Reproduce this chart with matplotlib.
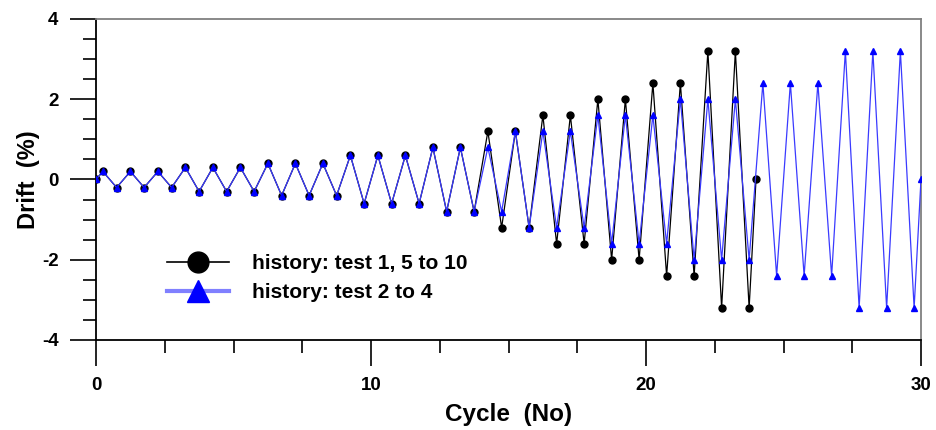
import numpy as np
import matplotlib
matplotlib.use("Agg")
from matplotlib import pyplot as plt
from matplotlib.lines import Line2D
from matplotlib.ticker import MultipleLocator

plt.rcParams['font.family'] = ['Liberation Sans', 'DejaVu Sans']
plt.rcParams['font.weight'] = 'bold'
plt.rcParams['axes.unicode_minus'] = False

# loading history (cycle, drift %)
black_cycle = [0, 0.25, 0.75, 1.25, 1.75, 2.25, 2.75, 3.25, 3.75, 4.25, 4.75,
               5.25, 5.75, 6.25, 6.75, 7.25, 7.75, 8.25, 8.75, 9.25, 9.75,
               10.25, 10.75, 11.25, 11.75, 12.25, 12.75, 13.25, 13.75, 14.25, 14.75,
               15.25, 15.75, 16.25, 16.75, 17.25, 17.75, 18.25, 18.75, 19.25, 19.75,
               20.25, 20.75, 21.25, 21.75, 22.25, 22.75, 23.25, 23.75, 24]
black_drift = [0, 0.2, -0.2, 0.2, -0.2, 0.2, -0.2, 0.3, -0.3, 0.3, -0.3,
               0.3, -0.3, 0.4, -0.4, 0.4, -0.4, 0.4, -0.4, 0.6, -0.6,
               0.6, -0.6, 0.6, -0.6, 0.8, -0.8, 0.8, -0.8, 1.2, -1.2,
               1.2, -1.2, 1.6, -1.6, 1.6, -1.6, 2.0, -2.0, 2.0, -2.0,
               2.4, -2.4, 2.4, -2.4, 3.2, -3.2, 3.2, -3.2, 0]

blue_cycle = [0, 0.25, 0.75, 1.25, 1.75, 2.25, 2.75, 3.25, 3.75, 4.25, 4.75,
              5.25, 5.75, 6.25, 6.75, 7.25, 7.75, 8.25, 8.75, 9.25, 9.75,
              10.25, 10.75, 11.25, 11.75, 12.25, 12.75, 13.25, 13.75, 14.25, 14.75,
              15.25, 15.75, 16.25, 16.75, 17.25, 17.75, 18.25, 18.75, 19.25, 19.75,
              20.25, 20.75, 21.25, 21.75, 22.25, 22.75, 23.25, 23.75, 24.25, 24.75,
              25.25, 25.75, 26.25, 26.75, 27.25, 27.75, 28.25, 28.75, 29.25, 29.75, 30]
blue_drift = [0, 0.2, -0.2, 0.2, -0.2, 0.2, -0.2, 0.3, -0.3, 0.3, -0.3,
              0.3, -0.3, 0.4, -0.4, 0.4, -0.4, 0.4, -0.4, 0.6, -0.6,
              0.6, -0.6, 0.6, -0.6, 0.8, -0.8, 0.8, -0.8, 0.8, -0.8,
              1.2, -1.2, 1.2, -1.2, 1.2, -1.2, 1.6, -1.6, 1.6, -1.6,
              1.6, -1.6, 2.0, -2.0, 2.0, -2.0, 2.0, -2.0, 2.4, -2.4,
              2.4, -2.4, 2.4, -2.4, 3.2, -3.2, 3.2, -3.2, 3.2, -3.2, 0]

labels = ['history: test 1, 5 to 10', 'history: test 2 to 4']

fig = plt.figure(figsize=(9.37, 4.3), dpi=100)
ax = fig.add_axes([96/937, 1 - 340/430, 825/937, 321/430])

ax.plot(black_cycle, black_drift, color='black', lw=0.9, marker='o', ms=5,
        zorder=2)
ax.plot(blue_cycle, blue_drift, color='#3a3aff', lw=0.9, marker='^', ms=5,
        mfc='blue', mec='blue', zorder=3)

ax.set_xlim(0, 30)
ax.set_ylim(-4, 4)
ax.xaxis.set_major_locator(MultipleLocator(10))
ax.xaxis.set_minor_locator(MultipleLocator(2.5))
ax.yaxis.set_major_locator(MultipleLocator(2))
ax.yaxis.set_minor_locator(MultipleLocator(0.5))

ax.tick_params(which='major', direction='out', length=19, width=1.2, pad=8,
               labelsize=13.5)
ax.tick_params(which='minor', direction='out', length=9.5, width=1.2)
for s in ['left', 'bottom']:
    ax.spines[s].set_linewidth(1.3)
for s in ['top', 'right']:
    ax.spines[s].set_color('#808080')
    ax.spines[s].set_linewidth(1.3)

ax.set_xlabel('Cycle  (No)', fontsize=17.5, fontweight='bold', labelpad=6)
ax.set_ylabel('Drift  (%)', fontsize=17, fontweight='bold', labelpad=1.5)

handles = [Line2D([], [], color='black', lw=1.2, marker='o', ms=15),
           Line2D([], [], color='#8080ff', lw=3, marker='^', ms=16,
                  mfc='blue', mec='blue')]
ax.legend(handles, labels, loc='upper left', bbox_to_anchor=(0.086, 0.268),
          frameon=False, fontsize=15, handlelength=3.0, handletextpad=1.1,
          labelspacing=0.5, borderpad=0, borderaxespad=0)

fig.savefig('out.png', dpi=100)
